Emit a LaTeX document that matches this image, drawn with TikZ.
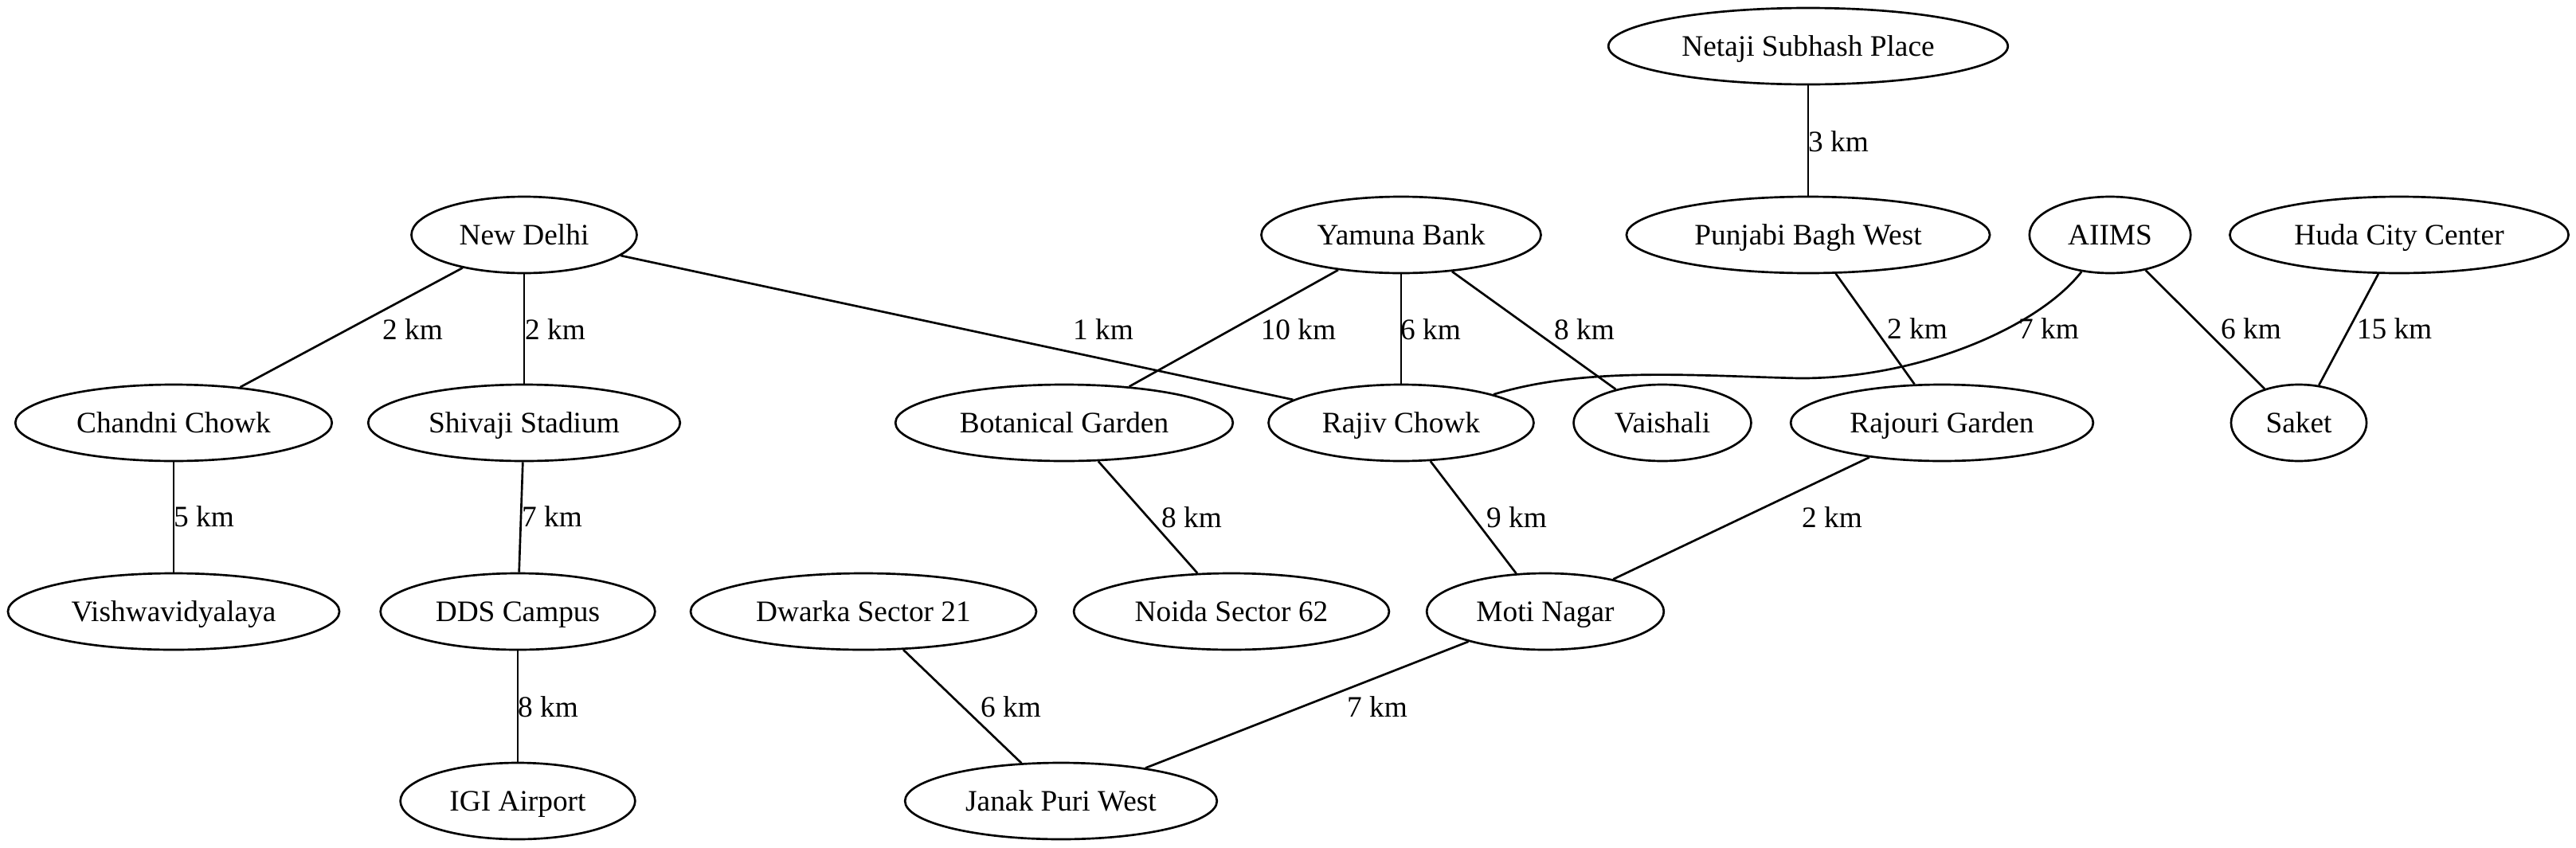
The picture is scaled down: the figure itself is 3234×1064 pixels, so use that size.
\documentclass[tikz,border=0pt]{standalone}
\usepackage{fontspec}
\setmainfont{Liberation Serif}
\usetikzlibrary{shapes.geometric}

\tikzset{
  station/.style={draw, ellipse, line width=1pt, inner xsep=7pt, inner ysep=3pt,
    text height=11pt, text depth=2pt,
    minimum height=36pt, font=\fontsize{14}{16}\selectfont},
  km/.style={inner sep=0pt, font=\fontsize{14}{16}\selectfont},
  link/.style={line width=1pt}
}

\begin{document}
\begin{tikzpicture}[x=0.375pt,y=-0.375pt]
\useasboundingbox (0,0) rectangle (3234,1064);
% stations
\node[station] (newdelhi) at (658,295) {New Delhi};
\node[station] (chandni) at (218,531) {Chandni Chowk};
\node[station] (shivaji) at (658,531) {Shivaji Stadium};
\node[station] (vishwa) at (218,768) {Vishwavidyalaya};
\node[station] (dds) at (650,768) {DDS Campus};
\node[station] (igi) at (650,1006) {IGI Airport};
\node[station] (yamuna) at (1759,295) {Yamuna Bank};
\node[station] (botanical) at (1336,531) {Botanical Garden};
\node[station] (rajiv) at (1759,531) {Rajiv Chowk};
\node[station] (vaishali) at (2087,531) {Vaishali};
\node[station] (noida) at (1546,768) {Noida Sector 62};
\node[station] (moti) at (1940,768) {Moti Nagar};
\node[station] (dwarka) at (1084,768) {Dwarka Sector 21};
\node[station] (janak) at (1332,1006) {Janak Puri West};
\node[station] (netaji) at (2270,58) {Netaji Subhash Place};
\node[station] (punjabi) at (2270,295) {Punjabi Bagh West};
\node[station] (aiims) at (2649,295) {AIIMS};
\node[station] (huda) at (3012,295) {Huda City Center};
\node[station] (rajouri) at (2438,531) {Rajouri Garden};
\node[station] (saket) at (2886,531) {Saket};
% links
\draw[link] (newdelhi) -- (chandni) node[km] at (518,414) {2 km};
\draw[link] (newdelhi) -- (shivaji) node[km] at (697,414) {2 km};
\draw[link] (newdelhi) -- (rajiv) node[km] at (1385,414) {1 km};
\draw[link] (chandni) -- (vishwa) node[km] at (256,649) {5 km};
\draw[link] (shivaji) -- (dds) node[km] at (693,649) {7 km};
\draw[link] (dds) -- (igi) node[km] at (688,888) {8 km};
\draw[link] (yamuna) -- (botanical) node[km] at (1630,414) {10 km};
\draw[link] (yamuna) -- (rajiv) node[km] at (1796,414) {6 km};
\draw[link] (yamuna) -- (vaishali) node[km] at (1989,414) {8 km};
\draw[link] (botanical) -- (noida) node[km] at (1496,650) {8 km};
\draw[link] (rajiv) -- (moti) node[km] at (1904,650) {9 km};
\draw[link] (rajouri) -- (moti) node[km] at (2300,650) {2 km};
\draw[link] (dwarka) -- (janak) node[km] at (1269,888) {6 km};
\draw[link] (moti) -- (janak) node[km] at (1729,888) {7 km};
\draw[link] (netaji) -- (punjabi) node[km] at (2308,178) {3 km};
\draw[link] (punjabi) -- (rajouri) node[km] at (2407,413) {2 km};
\draw[link] (aiims) .. controls (2560,410) and (2410,476) .. (2258,475)
  .. controls (2130,472) and (1990,460) .. (rajiv) node[km] at (2572,413) {7 km};
\draw[link] (aiims) -- (saket) node[km] at (2826,413) {6 km};
\draw[link] (huda) -- (saket) node[km] at (3006,413) {15 km};
\end{tikzpicture}
\end{document}
